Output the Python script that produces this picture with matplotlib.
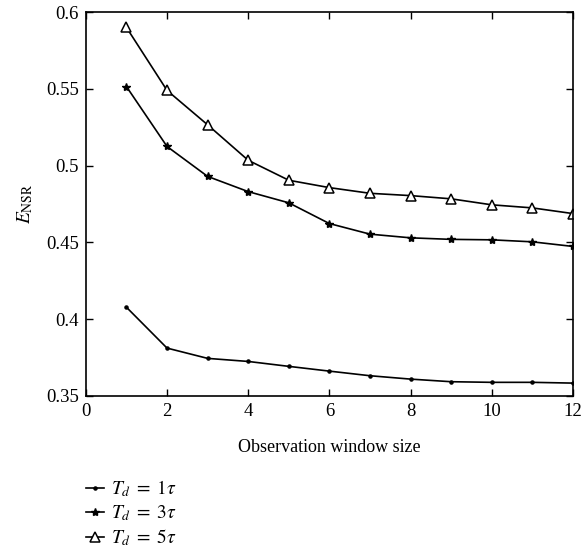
import numpy as np
import matplotlib
matplotlib.use("Agg")
import matplotlib.pyplot as plt

plt.rcParams['font.family'] = ['Liberation Serif', 'DejaVu Serif']
plt.rcParams['mathtext.fontset'] = 'stix'
plt.rcParams['font.size'] = 12

# observation window sizes
window = [1, 2, 3, 4, 5, 6, 7, 8, 9, 10, 11, 12]

# E_NSR for each detection delay
ensr_1tau = [0.4078, 0.3812, 0.3745, 0.3725, 0.3693, 0.3662, 0.3632,
             0.3610, 0.3593, 0.3589, 0.3589, 0.3584]
ensr_3tau = [0.5515, 0.5125, 0.4930, 0.4831, 0.4758, 0.4623, 0.4554,
             0.4530, 0.4520, 0.4517, 0.4504, 0.4474]
ensr_5tau = [0.5900, 0.5490, 0.5266, 0.5035, 0.4905, 0.4857, 0.4820,
             0.4805, 0.4784, 0.4745, 0.4725, 0.4688]

labels = [r'$T_d\;=\;1\tau$', r'$T_d\;=\;3\tau$', r'$T_d\;=\;5\tau$']

fig = plt.figure(figsize=(5.84, 5.5), dpi=100)
ax = fig.add_axes([0.147, 0.28, 0.834, 0.698])

l1, = ax.plot(window, ensr_1tau, color='black', lw=1.2, marker='.',
              markersize=4.5)
l2, = ax.plot(window, ensr_3tau, color='black', lw=1.2, marker='*',
              markersize=6)
l3, = ax.plot(window, ensr_5tau, color='black', lw=1.2, marker='^',
              markersize=6.5, markerfacecolor='white', markeredgewidth=1.1)

ax.set_xlim(0, 12)
ax.set_ylim(0.35, 0.6)
ax.set_xticks([0, 2, 4, 6, 8, 10, 12])
ax.set_yticks([0.35, 0.4, 0.45, 0.5, 0.55, 0.6])
ax.set_yticklabels(['0.35', '0.4', '0.45', '0.5', '0.55', '0.6'])
ax.tick_params(direction='in', top=True, right=True, length=5, width=1,
               labelsize=13.5, pad=5)
for s in ax.spines.values():
    s.set_linewidth(1.2)

ax.set_xlabel('Observation window size', fontsize=13, labelpad=14)
ax.set_ylabel(r'$E_{\mathrm{NSR}}$', fontsize=14, labelpad=8)

fig.legend([l1, l2, l3], labels, loc='upper left',
           bbox_to_anchor=(0.147, 0.130), frameon=False,
           fontsize=14, handlelength=0.95, handletextpad=0.35,
           labelspacing=0.22, borderpad=0, borderaxespad=0)

fig.savefig('out.png', dpi=100)
